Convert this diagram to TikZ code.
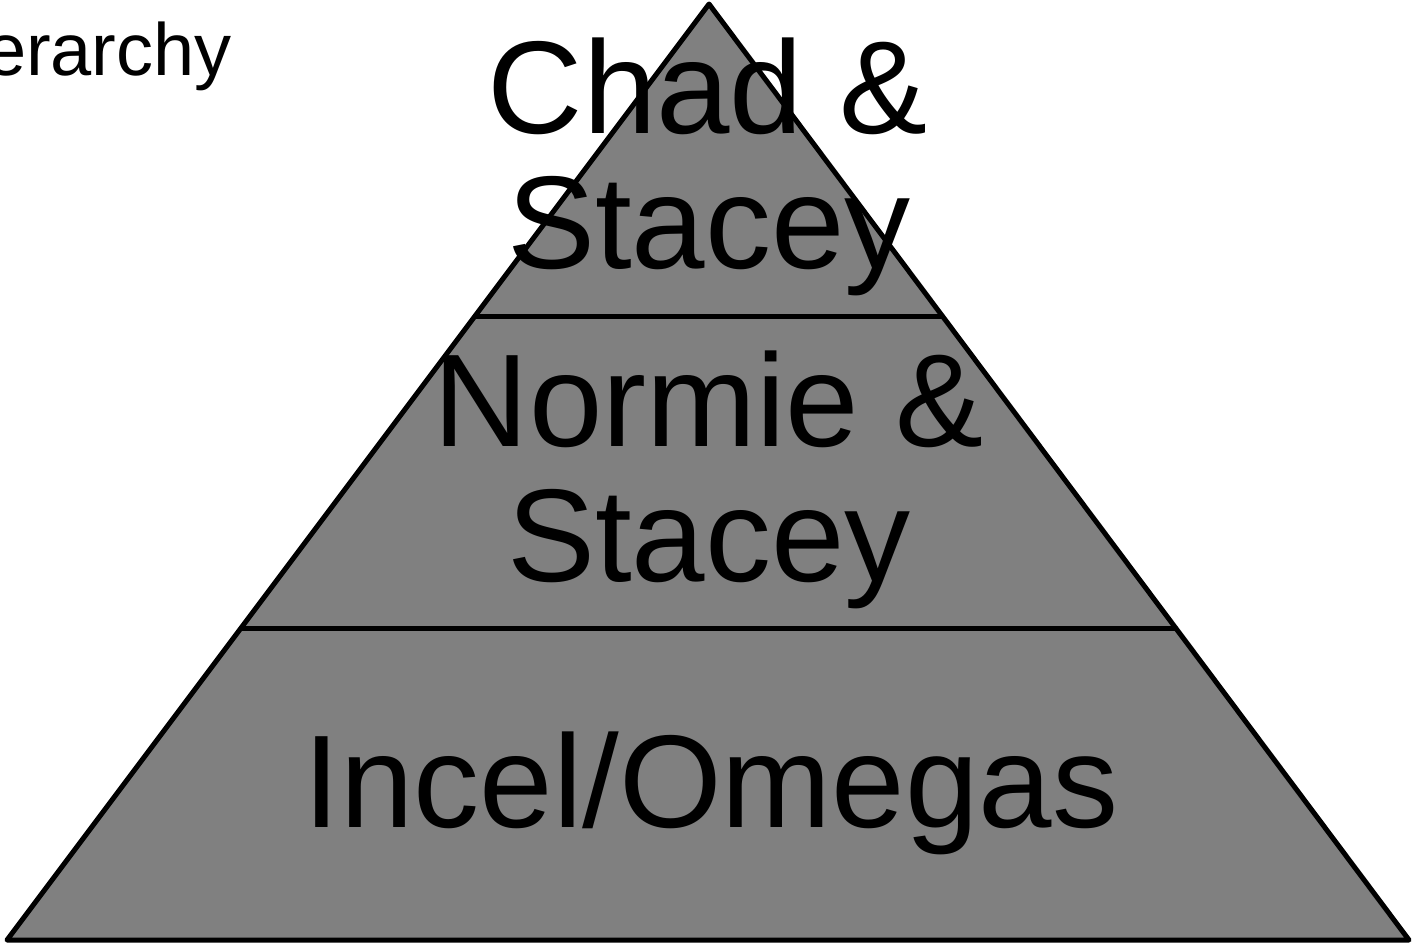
\documentclass[tikz,border=0pt]{standalone}
\usepackage{fontspec}
\setmainfont{Liberation Sans}
\usetikzlibrary{calc}
\definecolor{pyrfill}{RGB}{128,128,128}
\tikzset{
  biglabel/.style={inner sep=0pt, anchor=base, font=\fontsize{132}{135}\selectfont},
  titlelabel/.style={inner sep=0pt, anchor=base east, font=\fontsize{74}{80}\selectfont},
  pyrline/.style={draw=black, line width=5pt, line join=round, line cap=round}
}
\begin{document}
\begin{tikzpicture}[x=1pt,y=-1pt]
\clip (0,0) rectangle (1415,948);
\fill[white] (0,0) rectangle (1415,948);
\coordinate (apex) at (709,4);
\coordinate (bl) at (7,940);
\coordinate (br) at (1409,940);
\filldraw[pyrline, fill=pyrfill] (apex) -- (br) -- (bl) -- cycle;
\coordinate (l1a) at ($(apex)!1/3!(bl)$);
\coordinate (l1b) at ($(apex)!1/3!(br)$);
\coordinate (l2a) at ($(apex)!2/3!(bl)$);
\coordinate (l2b) at ($(apex)!2/3!(br)$);
\draw[pyrline] (l1a) -- (l1b);
\draw[pyrline] (l2a) -- (l2b);
\node[titlelabel] (title) at (232,75) {Hierarchy};
\node[biglabel] (top1) at (708,133) {Chad \&};
\node[biglabel] (top2) at (709,268) {Stacey};
\node[biglabel] (mid1) at (709,446) {Normie \&};
\node[biglabel] (mid2) at (709,581) {Stacey};
\node[biglabel] (bot) at (711,827) {Incel/Omegas};
\end{tikzpicture}
\end{document}
